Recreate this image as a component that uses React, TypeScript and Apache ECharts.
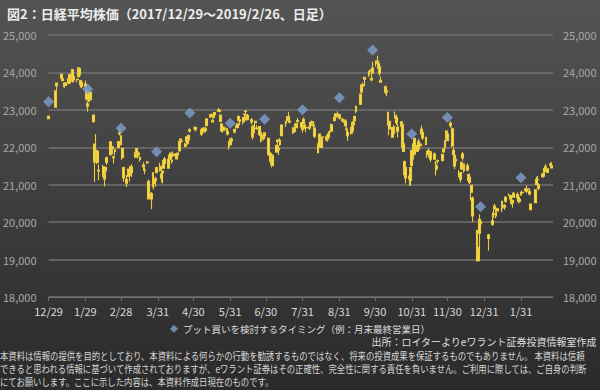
import React, { useEffect, useRef } from 'react';
import * as echarts from 'echarts';

const FONT = '"Noto Sans CJK JP", "Noto Sans", sans-serif';

// daily rows: [day, open, high, low, close]
const d2017_12 = [[29, 22831, 22847, 22753, 22764]];
const d2018_01 = [
  [4, 23073, 23506, 23065, 23506], [5, 23643, 23730, 23520, 23714], [9, 23948, 23952, 23789, 23849],
  [10, 23832, 23864, 23755, 23788], [11, 23656, 23734, 23601, 23710], [12, 23719, 23743, 23588, 23653],
  [15, 23827, 23833, 23685, 23714], [16, 23721, 23962, 23697, 23951], [17, 23787, 23899, 23760, 23868],
  [18, 24078, 24084, 23728, 23763], [19, 23892, 23897, 23738, 23808], [22, 23815, 23830, 23736, 23816],
  [23, 23888, 24129, 23875, 24124], [24, 24101, 24104, 23892, 23940], [25, 23781, 23783, 23599, 23669],
  [26, 23734, 23757, 23580, 23631], [29, 23688, 23787, 23574, 23629], [30, 23503, 23557, 23242, 23291],
  [31, 23163, 23238, 22947, 23098],
];
const d2018_02 = [
  [1, 23276, 23492, 23211, 23486], [2, 23472, 23512, 23210, 23274], [5, 22863, 22865, 22659, 22682],
  [6, 22089, 22103, 21078, 21610], [7, 21913, 22353, 21645, 21645], [8, 21592, 21932, 21544, 21891],
  [9, 21367, 21548, 21116, 21382], [13, 21479, 21531, 21207, 21244], [14, 21282, 21290, 20950, 21154],
  [15, 21374, 21472, 21189, 21464], [16, 21592, 21755, 21528, 21720], [19, 21800, 22152, 21778, 22149],
  [20, 21944, 22065, 21836, 21925], [21, 22013, 22024, 21815, 21970], [22, 21719, 21790, 21567, 21736],
  [23, 21931, 21954, 21786, 21892], [26, 21988, 22164, 21966, 22153], [27, 22365, 22502, 22316, 22389],
  [28, 22310, 22312, 22050, 22068],
];
const d2018_03 = [
  [1, 21972, 21973, 21667, 21724], [2, 21456, 21481, 21079, 21181], [5, 21145, 21258, 20937, 21042],
  [6, 21221, 21432, 21203, 21417], [7, 21304, 21362, 21083, 21252], [8, 21485, 21506, 21328, 21368],
  [9, 21323, 21545, 21206, 21469], [12, 21735, 21884, 21729, 21824], [13, 21858, 21971, 21825, 21968],
  [14, 21776, 21884, 21699, 21777], [15, 21839, 21886, 21752, 21803], [16, 21723, 21760, 21612, 21676],
  [19, 21526, 21599, 21384, 21480], [20, 21391, 21464, 21279, 21380], [22, 21603, 21635, 21546, 21591],
  [23, 21093, 21131, 20617, 20617], [26, 20617, 20808, 20347, 20766], [27, 21015, 21317, 20932, 21317],
  [28, 21130, 21198, 20875, 21031], [29, 21108, 21210, 20946, 21159], [30, 21318, 21483, 21314, 21454],
];
const d2018_04 = [
  [2, 21494, 21584, 21349, 21388], [3, 21172, 21334, 21056, 21292], [4, 21367, 21367, 21031, 21319],
  [5, 21440, 21680, 21437, 21645], [6, 21687, 21742, 21510, 21567], [9, 21444, 21737, 21437, 21678],
  [10, 21738, 21808, 21596, 21794], [11, 21844, 21845, 21663, 21687], [12, 21628, 21666, 21561, 21660],
  [13, 21818, 21897, 21734, 21778], [16, 21688, 21852, 21688, 21835], [17, 21797, 21869, 21675, 21847],
  [18, 21900, 22168, 21893, 22158], [19, 22212, 22240, 22117, 22191], [20, 22156, 22226, 22129, 22162],
  [23, 22029, 22117, 21998, 22088], [24, 22150, 22293, 22129, 22278], [25, 22112, 22216, 22074, 22215],
  [26, 22198, 22336, 22145, 22319], [27, 22434, 22510, 22391, 22467],
];
const d2018_05 = [
  [1, 22514, 22557, 22455, 22508], [2, 22531, 22551, 22422, 22472], [7, 22352, 22497, 22306, 22467],
  [8, 22427, 22521, 22367, 22508], [9, 22520, 22520, 22393, 22408], [10, 22443, 22519, 22419, 22497],
  [11, 22580, 22758, 22557, 22758], [14, 22834, 22884, 22794, 22865], [15, 22881, 22881, 22782, 22818],
  [16, 22680, 22755, 22658, 22717], [17, 22807, 22890, 22754, 22838], [18, 22871, 22947, 22836, 22930],
  [21, 22967, 23050, 22967, 23002], [22, 22990, 23009, 22929, 22960], [23, 22859, 22872, 22683, 22689],
  [24, 22625, 22630, 22408, 22437], [25, 22545, 22545, 22390, 22450], [28, 22493, 22527, 22435, 22481],
  [29, 22418, 22478, 22315, 22358], [30, 22137, 22171, 21931, 22018], [31, 22071, 22241, 22070, 22201],
];
const d2018_06 = [
  [1, 22220, 22268, 22127, 22171], [4, 22408, 22495, 22376, 22475], [5, 22541, 22589, 22498, 22539],
  [6, 22528, 22634, 22505, 22625], [7, 22724, 22856, 22699, 22823], [8, 22734, 22772, 22592, 22694],
  [11, 22678, 22813, 22610, 22804], [12, 22887, 22900, 22767, 22878], [13, 22959, 22992, 22880, 22966],
  [14, 22828, 22888, 22712, 22738], [15, 22743, 22888, 22729, 22851], [18, 22736, 22791, 22612, 22680],
  [19, 22547, 22587, 22210, 22278], [20, 22398, 22588, 22359, 22555], [21, 22656, 22714, 22565, 22693],
  [22, 22504, 22595, 22460, 22516], [25, 22552, 22559, 22302, 22338], [26, 22169, 22342, 22125, 22342],
  [27, 22325, 22414, 22260, 22271], [28, 22227, 22298, 22182, 22270], [29, 22385, 22394, 22254, 22304],
];
const d2018_07 = [
  [2, 22243, 22263, 21800, 21811], [3, 21836, 21850, 21615, 21785], [4, 21835, 21873, 21661, 21717],
  [5, 21755, 21778, 21462, 21546], [6, 21505, 21813, 21503, 21788], [9, 21871, 22068, 21866, 22052],
  [10, 22156, 22197, 22050, 22196], [11, 21963, 22040, 21791, 21932], [12, 22073, 22248, 22032, 22187],
  [13, 22309, 22604, 22309, 22597], [17, 22641, 22706, 22540, 22697], [18, 22714, 22830, 22702, 22794],
  [19, 22818, 22949, 22664, 22764], [20, 22674, 22778, 22645, 22697], [23, 22515, 22542, 22348, 22396],
  [24, 22430, 22578, 22405, 22510], [25, 22563, 22656, 22551, 22614], [26, 22526, 22643, 22522, 22586],
  [27, 22693, 22782, 22594, 22712], [30, 22659, 22660, 22544, 22544], [31, 22477, 22586, 22389, 22553],
];
const d2018_08 = [
  [1, 22645, 22795, 22620, 22746], [2, 22593, 22641, 22488, 22512], [3, 22529, 22555, 22405, 22525],
  [6, 22542, 22587, 22459, 22507], [7, 22581, 22694, 22530, 22662], [8, 22680, 22716, 22601, 22644],
  [9, 22568, 22691, 22521, 22598], [10, 22512, 22532, 22242, 22298], [13, 22064, 22108, 21851, 21857],
  [14, 22002, 22362, 21969, 22356], [15, 22244, 22250, 22135, 22204], [16, 21996, 22225, 21982, 22192],
  [17, 22272, 22295, 22154, 22270], [20, 22281, 22334, 22176, 22199], [21, 22244, 22283, 22145, 22219],
  [22, 22270, 22419, 22269, 22362], [23, 22408, 22446, 22343, 22410], [24, 22431, 22628, 22428, 22601],
  [27, 22714, 22813, 22690, 22799], [28, 22894, 22902, 22795, 22813], [29, 22819, 22900, 22809, 22848],
  [30, 22879, 22961, 22831, 22869], [31, 22777, 22892, 22745, 22865],
];
const d2018_09 = [
  [3, 22746, 22792, 22671, 22707], [4, 22727, 22746, 22657, 22696], [5, 22696, 22745, 22535, 22580],
  [6, 22476, 22549, 22359, 22487], [7, 22395, 22491, 22172, 22307], [10, 22465, 22540, 22339, 22373],
  [11, 22437, 22700, 22437, 22664], [12, 22669, 22697, 22484, 22604], [13, 22718, 22842, 22634, 22821],
  [14, 22966, 23094, 22908, 23094], [18, 23153, 23438, 23127, 23420], [19, 23480, 23672, 23437, 23672],
  [20, 23639, 23734, 23581, 23674], [21, 23818, 23869, 23688, 23869], [25, 23997, 24039, 23876, 23940],
  [26, 24062, 24073, 23941, 24033], [27, 23843, 24016, 23762, 23796], [28, 23979, 24286, 23965, 24120],
];
const d2018_10 = [
  [1, 24304, 24306, 24160, 24245], [2, 24296, 24448, 24194, 24270], [3, 24237, 24306, 24068, 24110],
  [4, 24159, 24181, 23908, 23975], [5, 23738, 23891, 23733, 23784], [9, 23617, 23649, 23418, 23469],
  [10, 23477, 23544, 23363, 23506], [11, 22928, 22958, 22590, 22590], [12, 22491, 22695, 22323, 22694],
  [15, 22529, 22538, 22261, 22271], [16, 22377, 22594, 22322, 22549], [17, 22821, 22959, 22772, 22841],
  [18, 22794, 22876, 22593, 22658], [19, 22432, 22627, 22261, 22532], [22, 22680, 22698, 22551, 22614],
  [23, 22604, 22604, 21943, 22010], [24, 21889, 22116, 21875, 22091], [25, 21614, 21649, 21249, 21268],
  [26, 21461, 21506, 21031, 21184], [29, 21234, 21285, 20971, 21149], [30, 21117, 21465, 20970, 21457],
  [31, 21512, 21920, 21460, 21920],
];
const d2018_11 = [
  [1, 22061, 22111, 21656, 21687], [2, 21815, 22244, 21801, 22243], [5, 22044, 22086, 21871, 21898],
  [6, 22006, 22226, 21963, 22147], [7, 22044, 22182, 21931, 22085], [8, 22356, 22583, 22339, 22486],
  [9, 22401, 22401, 22192, 22250], [12, 22079, 22282, 22057, 22269], [13, 21887, 21906, 21715, 21810],
  [14, 21916, 21974, 21727, 21846], [15, 21803, 21867, 21684, 21803], [16, 21880, 21880, 21609, 21680],
  [19, 21681, 21860, 21667, 21821], [20, 21583, 21636, 21243, 21583], [21, 21425, 21542, 21371, 21507],
  [22, 21633, 21672, 21558, 21646], [26, 21650, 21829, 21617, 21812], [27, 21880, 21973, 21847, 21952],
  [28, 21986, 22178, 21950, 22177], [29, 22431, 22458, 22207, 22262], [30, 22176, 22359, 22159, 22351],
];
const d2018_12 = [
  [3, 22643, 22698, 22523, 22574], [4, 22497, 22536, 21999, 22036], [5, 21810, 22000, 21784, 21919],
  [6, 21786, 21821, 21422, 21501], [7, 21638, 21774, 21582, 21678], [10, 21283, 21392, 21202, 21219],
  [11, 21326, 21344, 21062, 21148], [12, 21418, 21616, 21396, 21602], [13, 21717, 21871, 21650, 21816],
  [14, 21551, 21551, 21318, 21374], [17, 21394, 21573, 21356, 21506], [18, 21270, 21288, 21094, 21115],
  [19, 21200, 21298, 21020, 21060], [20, 20797, 20883, 20580, 20987], [21, 20646, 20685, 20006, 20166],
  [25, 19785, 19785, 18948, 19155], [26, 18970, 19530, 18949, 19327], [27, 19706, 20211, 19302, 20077],
  [28, 19957, 20084, 19900, 20014],
];
const d2019_01 = [
  [4, 19655, 19692, 19241, 19561], [7, 19944, 20266, 19896, 20038], [8, 20224, 20347, 20113, 20204],
  [9, 20366, 20494, 20331, 20427], [10, 20270, 20345, 20101, 20163], [11, 20296, 20386, 20294, 20359],
  [15, 20360, 20571, 20264, 20555], [16, 20452, 20539, 20359, 20442], [17, 20444, 20475, 20322, 20402],
  [18, 20561, 20696, 20519, 20666], [21, 20714, 20774, 20708, 20719], [22, 20711, 20711, 20599, 20622],
  [23, 20509, 20655, 20467, 20593], [24, 20514, 20597, 20387, 20574], [25, 20667, 20812, 20658, 20773],
  [28, 20738, 20799, 20642, 20649], [29, 20556, 20720, 20499, 20664], [30, 20607, 20627, 20522, 20556],
  [31, 20768, 20811, 20713, 20773],
];
const d2019_02 = [
  [1, 20797, 20846, 20702, 20788], [4, 20849, 20913, 20803, 20883], [5, 20849, 20981, 20774, 20844],
  [6, 20888, 20907, 20812, 20874], [7, 20825, 20866, 20713, 20751], [8, 20483, 20497, 20315, 20333],
  [12, 20519, 20882, 20508, 20864], [13, 21009, 21213, 21000, 21144], [14, 21138, 21235, 21076, 21139],
  [15, 21000, 21041, 20853, 20900], [18, 21217, 21302, 21217, 21281], [19, 21230, 21356, 21183, 21302],
  [20, 21357, 21494, 21292, 21431], [21, 21480, 21553, 21411, 21464], [22, 21330, 21451, 21330, 21425],
  [25, 21553, 21590, 21499, 21528], [26, 21515, 21610, 21430, 21449],
];

const months: [number, number, number[][]][] = [
  [2017, 12, d2017_12], [2018, 1, d2018_01], [2018, 2, d2018_02], [2018, 3, d2018_03],
  [2018, 4, d2018_04], [2018, 5, d2018_05], [2018, 6, d2018_06], [2018, 7, d2018_07],
  [2018, 8, d2018_08], [2018, 9, d2018_09], [2018, 10, d2018_10], [2018, 11, d2018_11],
  [2018, 12, d2018_12], [2019, 1, d2019_01], [2019, 2, d2019_02],
];

const xTickDates = [
  '2017-12-29', '2018-01-29', '2018-02-28', '2018-03-31', '2018-04-30', '2018-05-31', '2018-06-30',
  '2018-07-31', '2018-08-31', '2018-09-30', '2018-10-31', '2018-11-30', '2018-12-31', '2019-01-31',
];
const putDates = [
  '2017-12-29', '2018-01-31', '2018-02-28', '2018-03-30', '2018-04-27', '2018-05-31', '2018-06-29',
  '2018-07-31', '2018-08-31', '2018-09-28', '2018-10-31', '2018-11-30', '2018-12-28', '2019-01-31',
];
const putValues = [23219, 23560, 22509, 21883, 22916, 22645, 22750, 23004, 23322, 24602, 22358, 22798, 20414, 21188];

const X_MIN = '2017-12-29';
const X_MAX = '2019-02-27';
const Y_MIN = 18000;
const Y_MAX = 25000;
const Y_STEP = 1000;

const TITLE = '図2：日経平均株価（2017/12/29～2019/2/26、日足）';
const LEGEND = 'プット買いを検討するタイミング（例：月末最終営業日）';
const SOURCE = '出所：ロイターよりeワラント証券投資情報室作成';
const NOTES = [
  '本資料は情報の提供を目的としており、本資料による何らかの行動を勧誘するものではなく、将来の投資成果を保証するものでもありません。 本資料は信頼',
  'できると思われる情報に基づいて作成されておりますが、eワラント証券はその正確性、完全性に関する責任を負いません。ご利用に際しては、ご自身の判断',
  'にてお願いします。ここに示した内容は、本資料作成日現在のものです。',
];

const DAY = 86400000;
const ORIGIN = Date.UTC(2017, 11, 29);
// day offset from 2017-12-29 (x axis is a calendar-day value axis)
function dayIdx(y: number, m: number, d: number) {
  return Math.round((Date.UTC(y, m - 1, d) - ORIGIN) / DAY);
}
function dayOf(s: string) {
  const [y, m, d] = s.split('-').map(Number);
  return dayIdx(y, m, d);
}
function labelOf(v: number) {
  const dt = new Date(ORIGIN + Math.round(v) * DAY);
  return `${dt.getUTCMonth() + 1}/${dt.getUTCDate()}`;
}

export default function App() {
  const ref = useRef<HTMLDivElement>(null);
  useEffect(() => {
    if (!ref.current) return;
    const chart = echarts.init(ref.current, null, { renderer: 'svg' });
    const candles: any[] = [];
    months.forEach(([y, m, rows]) => {
      rows.forEach(([d, o, h, l, c]) => {
        candles.push([dayIdx(y, m, d), o, c, l, h]);
      });
    });
    const puts = putDates.map((d, i) => [dayOf(d), putValues[i]]);
    const xTicks = xTickDates.map(dayOf);
    const gridColor = '#707070';
    const yLabel = {
      color: '#a8a8a8',
      fontSize: 11,
      fontFamily: FONT,
      formatter: (v: number) => v.toLocaleString('en-US'),
    };
    chart.setOption({
      animation: false,
      backgroundColor: 'transparent',
      textStyle: { fontFamily: FONT },
      title: {
        text: TITLE,
        left: 2,
        top: 2,
        textStyle: { color: '#ececec', fontSize: 13, fontWeight: 'bold', fontFamily: FONT },
      },
      grid: { left: 45, right: 47, top: 35, bottom: 93 },
      xAxis: {
        type: 'value',
        min: dayOf(X_MIN),
        max: dayOf(X_MAX),
        splitLine: { show: false },
        axisLine: { lineStyle: { color: gridColor, width: 1 } },
        axisTick: { show: true, customValues: xTicks, length: 4, lineStyle: { color: gridColor } },
        axisLabel: {
          customValues: xTicks,
          formatter: (v: number) => labelOf(v),
          color: '#d8d8d8',
          fontSize: 11,
          margin: 8,
          fontFamily: FONT,
        },
      },
      yAxis: [
        {
          type: 'value',
          min: Y_MIN,
          max: Y_MAX,
          interval: Y_STEP,
          position: 'left',
          axisLine: { show: false },
          axisTick: { show: false },
          axisLabel: { ...yLabel, margin: 12 },
          splitLine: { lineStyle: { color: gridColor, width: 1.5 } },
        },
        {
          type: 'value',
          min: Y_MIN,
          max: Y_MAX,
          interval: Y_STEP,
          position: 'right',
          axisLine: { show: false },
          axisTick: { show: false },
          axisLabel: { ...yLabel, margin: 10 },
          splitLine: { show: false },
        },
      ],
      legend: {
        top: 319,
        left: 'center',
        icon: 'diamond',
        itemWidth: 8,
        itemHeight: 8,
        itemGap: 3,
        data: [LEGEND],
        textStyle: { color: '#dcdcdc', fontSize: 9.5, fontFamily: FONT },
      },
      series: [
        {
          type: 'candlestick',
          name: '日経平均株価',
          data: candles,
          barWidth: 2.4,
          itemStyle: {
            color: '#fadd48',
            color0: '#fadd48',
            borderColor: '#ecca3e',
            borderColor0: '#ecca3e',
            borderWidth: 1.1,
          },
          z: 2,
        },
        {
          type: 'scatter',
          name: LEGEND,
          data: puts,
          symbol: 'diamond',
          symbolSize: 11,
          itemStyle: { color: '#7f9fcf' },
          z: 3,
        },
      ],
      graphic: [
        {
          type: 'text',
          right: 3,
          top: 336,
          style: { text: SOURCE, fill: '#dedede', fontSize: 10, fontFamily: FONT },
        },
        ...NOTES.map((t, i) => ({
          type: 'text',
          left: 0,
          top: 351 + i * 13,
          scaleX: 0.835,
          style: { text: t, fill: '#d6d6d6', fontSize: 10, fontFamily: FONT },
        })),
      ],
    });
    return () => chart.dispose();
  }, []);
  return (
    <div
      ref={ref}
      style={{
        position: 'fixed',
        left: 0,
        top: 0,
        width: 600,
        height: 390,
        background: 'linear-gradient(180deg, #545454 0%, #3c3c3c 55%, #303030 85%, #2a2a2a 100%)',
      }}
    />
  );
}
